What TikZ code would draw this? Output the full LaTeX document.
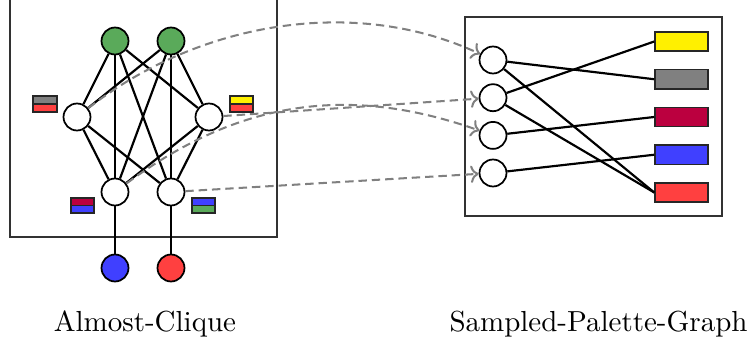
\documentclass[tikz,border=0pt]{standalone}
\usetikzlibrary{arrows.meta}
\definecolor{cgreen}{RGB}{90,170,90}
\definecolor{cblue}{RGB}{64,64,255}
\definecolor{cred}{RGB}{255,64,64}
\definecolor{cyellow}{RGB}{255,240,0}
\definecolor{cgray}{RGB}{128,128,128}
\definecolor{ccrimson}{RGB}{187,0,63}
\definecolor{frameline}{RGB}{50,50,50}
\tikzset{
  vtx/.style={circle, draw=black, line width=0.6pt, fill=white, minimum size=9.3pt, inner sep=0pt},
  colbox/.style={rectangle, draw=black!85, line width=0.5pt, minimum width=18.3pt, minimum height=6.6pt, inner sep=0pt},
  frame/.style={draw=frameline, line width=0.6pt},
  edge/.style={draw=black, line width=0.75pt},
  mapto/.style={draw=cgray, line width=0.7pt, dash pattern=on 2.9pt off 1.7pt, -{To[length=2.8pt,width=6pt]}},
  chip/.style={draw=black!85, line width=0.4pt},
}
\begin{document}
\begin{tikzpicture}[x=0.3448pt, y=-0.3448pt]
\useasboundingbox (0,0) rectangle (749,345);

% frames
\draw[frame] (10,-10) rectangle (277,237);
\draw[frame] (465,17) rectangle (722,216);

% almost-clique vertices
\node[vtx, fill=cgreen] (g1) at (115,41) {};
\node[vtx, fill=cgreen] (g2) at (171,41) {};
\node[vtx] (wl) at (77,117) {};
\node[vtx] (wr) at (209,117) {};
\node[vtx] (b1) at (115,192) {};
\node[vtx] (b2) at (171,192) {};
\node[vtx, fill=cblue] (ob) at (115,268) {};
\node[vtx, fill=cred] (or) at (171,268) {};

% almost-clique edges
\foreach \g in {g1,g2}
  \foreach \v in {wl,wr,b1,b2}
    \draw[edge] (\g) -- (\v);
\foreach \w in {wl,wr}
  \foreach \b in {b1,b2}
    \draw[edge] (\w) -- (\b);
\draw[edge] (b1) -- (ob);
\draw[edge] (b2) -- (or);

% two-colour palettes beside the vertices
\draw[chip, fill=cgray] (33,96) rectangle (57,104);
\draw[chip, fill=cred] (33,104) rectangle (57,112);
\draw[chip, fill=cyellow] (230,96) rectangle (253,104);
\draw[chip, fill=cred] (230,104) rectangle (253,112);
\draw[chip, fill=ccrimson] (71,198) rectangle (94,205.5);
\draw[chip, fill=cblue] (71,205.5) rectangle (94,213);
\draw[chip, fill=cblue] (192,198) rectangle (215,205.5);
\draw[chip, fill=cgreen] (192,205.5) rectangle (215,213);

% sampled-palette graph
\node[vtx] (c1) at (493,60) {};
\node[vtx] (c2) at (493,97.7) {};
\node[vtx] (c3) at (493,135.4) {};
\node[vtx] (c4) at (493,173) {};
\node[colbox, fill=cyellow] (py) at (681.5,41.5) {};
\node[colbox, fill=cgray] (pg) at (681.5,79.25) {};
\node[colbox, fill=ccrimson] (pc) at (681.5,117) {};
\node[colbox, fill=cblue] (pb) at (681.5,154.75) {};
\node[colbox, fill=cred] (pr) at (681.5,192.5) {};

\draw[edge] (c1) -- (pg.west);
\draw[edge] (c1) -- (pr.west);
\draw[edge] (c2) -- (py.west);
\draw[edge] (c2) -- (pr.west);
\draw[edge] (c3) -- (pc.west);
\draw[edge] (c4) -- (pb.west);

% correspondence arrows
\draw[mapto] (wl) to[out=38, in=155, looseness=0.9] (c1);
\draw[mapto] (wr) -- (c2);
\draw[mapto] (b1) to[bend left=28] (c3);
\draw[mapto] (b2) -- (c4);

% captions
\node[anchor=base, inner sep=0pt] (capL) at (145,332) {Almost-Clique};
\node[anchor=base, inner sep=0pt] (capR) at (598.5,332) {Sampled-Palette-Graph};
\end{tikzpicture}
\end{document}
